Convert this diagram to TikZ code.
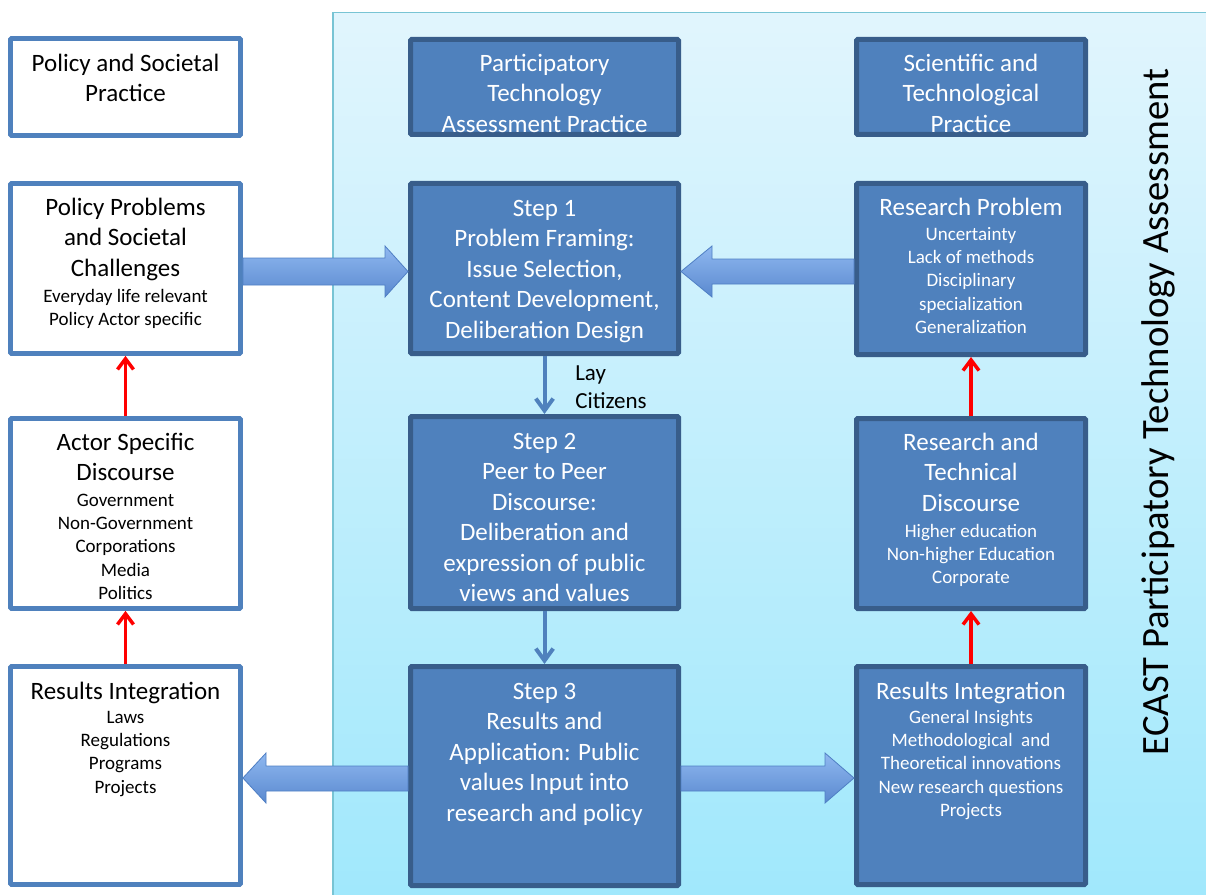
\documentclass[tikz,border=0pt]{standalone}
\usepackage{fontspec}
\setmainfont{Carlito}
\usetikzlibrary{arrows.meta,calc}
\definecolor{dfill}{RGB}{79,129,189}
\definecolor{dline}{RGB}{56,93,138}
\definecolor{lline}{RGB}{79,129,189}
\definecolor{ptop}{RGB}{225,245,253}
\definecolor{pbot}{RGB}{160,232,252}
\definecolor{pline}{RGB}{120,196,212}
\definecolor{atop}{RGB}{143,184,240}
\definecolor{abot}{RGB}{90,137,207}
\definecolor{aline}{RGB}{79,127,196}
\definecolor{redc}{RGB}{255,0,0}
\newcommand\myfstrut{\rule{0pt}{0.8em}}
\begin{document}
\begin{tikzpicture}[x=0.75pt,y=-0.75pt,
  dbox/.style={draw=dline, fill=dfill, line width=3.75pt, rectangle, inner sep=0pt, rounded corners=0.8pt, minimum width=#1},
  lbox/.style={draw=lline, fill=white, line width=3.6pt, rectangle, inner sep=0pt, rounded corners=0.8pt, minimum width=172.5pt},
  ttl/.style={anchor=north, align=center, inner sep=0pt, font=\fontsize{18.75}{22.9}\selectfont},
  sub/.style={anchor=north, align=center, inner sep=0pt, font=\fontsize{14.25}{17.4}\selectfont},
  onDark/.style={text=white},
  onLight/.style={text=black},
  blockarrow/.style={top color=atop, bottom color=abot, draw=aline, line width=0.6pt, line join=miter},
  blueconn/.style={draw=dfill, line width=3pt, -{Straight Barb[length=9pt,width=13pt]}},
  redconn/.style={draw=redc, line width=2.6pt, -{Straight Barb[length=8pt,width=12pt]}}
]
\useasboundingbox (0,0) rectangle (1206,895);

% background panel
\path[top color=ptop, bottom color=pbot, draw=pline, line width=1.2pt] (333,12.5) rectangle (1215,905);

% left column boxes
\node[lbox, minimum height=72.75pt] (psp) at (125.5,87) {};
\node[lbox, minimum height=127.5pt] (pp) at (125.5,268.5) {};
\node[lbox, minimum height=142.5pt] (as) at (125.5,513.5) {};
\node[lbox, minimum height=163.5pt] (ril) at (125.5,775.5) {};

% middle column boxes
\node[dbox=201pt, minimum height=71.25pt] (pta) at (544.5,87) {};
\node[dbox=201pt, minimum height=127.5pt] (s1) at (544.5,268.5) {};
\node[dbox=201pt, minimum height=144pt] (s2) at (544.5,512.5) {};
\node[dbox=201pt, minimum height=164.25pt] (s3) at (544.5,776) {};

% right column boxes
\node[dbox=171.75pt, minimum height=71.25pt] (sci) at (971,87) {};
\node[dbox=171.75pt, minimum height=128.25pt] (rp) at (971,269) {};
\node[dbox=171.75pt, minimum height=142.5pt] (rt) at (971,513.5) {};
\node[dbox=171.75pt, minimum height=163.5pt] (rir) at (971,775.5) {};

% texts left
\node[ttl, onLight] (pspt) at (125.5,51) {\myfstrut Policy and Societal\\Practice};
\node[ttl, onLight] (ppt) at (125.5,195) {\myfstrut Policy Problems\\and Societal\\Challenges};
\node[sub, onLight] (pps) at (125.5,287) {\myfstrut Everyday life relevant\\Policy Actor specific};
\node[ttl, onLight] (ast) at (125.5,430) {\myfstrut Actor Specific\\Discourse};
\node[sub, onLight] (ass) at (125.5,491) {\myfstrut Government\\Non-Government\\Corporations\\Media\\Politics};
\node[ttl, onLight] (rilt) at (125.5,679) {\myfstrut Results Integration};
\node[sub, onLight] (rils) at (125.5,708) {\myfstrut Laws\\Regulations\\Programs\\Projects};

% texts middle
\node[ttl, onDark] (ptat) at (544.5,51) {\myfstrut Participatory\\Technology\\Assessment Practice};
\node[ttl, onDark] (s1t) at (544.5,196) {\myfstrut Step 1\\Problem Framing:\\Issue Selection,\\Content Development,\\Deliberation Design};
\node[ttl, onDark] (s2t) at (544.5,429) {\myfstrut Step 2\\Peer to Peer\\Discourse:\\Deliberation and\\expression of public\\views and values};
\node[ttl, onDark] (s3t) at (544.5,679) {\myfstrut Step 3\\Results and\\Application: Public\\values Input into\\research and policy};

% texts right
\node[ttl, onDark] (scit) at (971,51) {\myfstrut Scientific and\\Technological\\Practice};
\node[ttl, onDark] (rpt) at (971,195) {\myfstrut Research Problem};
\node[sub, onDark] (rps) at (971,225) {\myfstrut Uncertainty\\Lack of methods\\Disciplinary\\specialization\\Generalization};
\node[ttl, onDark] (rtt) at (971,430) {\myfstrut Research and\\Technical\\Discourse};
\node[sub, onDark] (rts) at (971,522) {\myfstrut Higher education\\Non-higher Education\\Corporate};
\node[ttl, onDark] (rirt) at (971,679) {\myfstrut Results Integration};
\node[sub, onDark] (rirs) at (971,708) {\myfstrut General Insights\\Methodological\ \ and\\Theoretical innovations\\New research questions\\Projects};

% lay citizens label
\node[anchor=north west, align=left, inner sep=0pt, font=\fontsize{17.25}{21}\selectfont] (lay) at (575,362) {\myfstrut Lay\\Citizens};

% vertical title
\node[rotate=90, anchor=base, inner sep=0pt, font=\fontsize{29}{35}\selectfont] (ecast) at (1168,412) {ECAST Participatory Technology Assessment};

% block arrows
\path[blockarrow] (pp.east |- 0,258) -- (385,258) -- (385,246) -- (s1.west |- 0,271.5) -- (385,297) -- (385,285) -- (pp.east |- 0,285) -- cycle;
\path[blockarrow] (rp.west |- 0,259) -- (712,259) -- (712,246) -- (s1.east |- 0,271.5) -- (712,297) -- (712,284) -- (rp.west |- 0,284) -- cycle;
\path[blockarrow] (s3.west |- 0,766) -- (266,766) -- (266,753) -- (ril.east |- 0,778) -- (266,803) -- (266,791) -- (s3.west |- 0,791) -- cycle;
\path[blockarrow] (s3.east |- 0,766) -- (825,766) -- (825,753) -- (rir.west |- 0,778) -- (825,803) -- (825,791) -- (s3.east |- 0,791) -- cycle;

% thin connectors
\draw[blueconn] (s1.south) -- (s2.north);
\draw[blueconn] (s2.south) -- (s3.north);
\draw[redconn] (as.north) -- (pp.south);
\draw[redconn] (ril.north) -- (as.south);
\draw[redconn] (rt.north) -- (rp.south);
\draw[redconn] (rir.north) -- (rt.south);
\end{tikzpicture}
\end{document}
